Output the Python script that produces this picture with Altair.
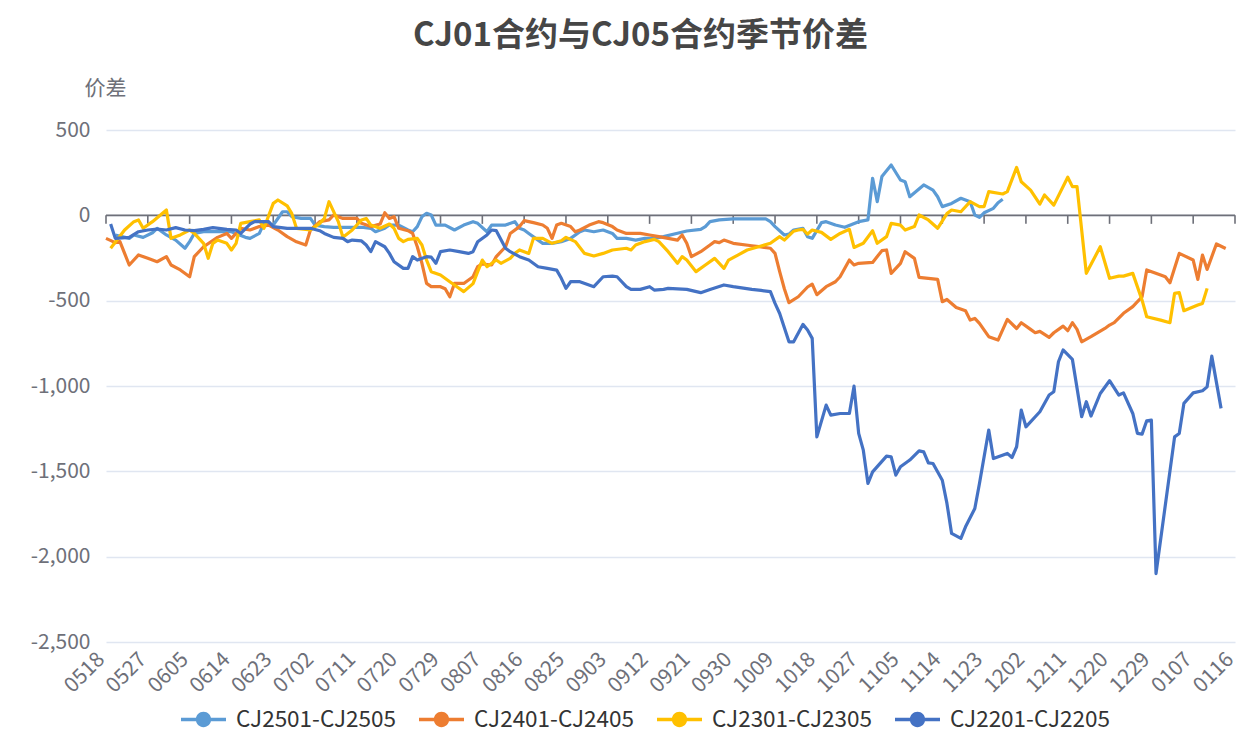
import altair as alt
import pandas as pd

FONT = "Noto Sans CJK SC"

# categories: every calendar day from 05-18 to 01-16 (labels MMDD)
dates = [d.strftime("%m%d") for d in pd.date_range("2021-05-18", "2022-01-16", freq="D")]
label_days = list(range(0, 244, 9))            # positions of the shown tick labels
y_ticks = [-2500, -2000, -1500, -1000, -500, 0, 500]

series = ["CJ2501-CJ2505", "CJ2401-CJ2405", "CJ2301-CJ2305", "CJ2201-CJ2205"]
colors = ["#5B9BD5", "#ED7D31", "#FFC000", "#4472C4"]

# (day index into dates, spread value)
cj2501 = [(2,-115),(5,-135),(6,-115),(8,-129),(10,-102),(11,-76),(13,-115),(15,-145),(17,-193),(18,-154),
          (19,-106),(21,-96),(24,-96),(27,-96),(30,-129),(31,-135),(33,-106),(34,-47),(36,-57),(38,21),
          (39,21),(40,-8),(42,-18),(44,-18),(45,-57),(47,-66),(49,-70),(51,-70),(54,-70),(55,-70),
          (57,-76),(58,-96),(60,-76),(61,-57),(63,-57),(65,-86),(66,-96),(67,-66),(68,-8),(69,12),
          (70,2),(71,-57),(73,-57),(75,-86),(77,-57),(79,-37),(80,-47),(82,-96),(83,-57),(85,-57),
          (86,-57),(88,-37),(89,-76),(90,-86),(91,-106),(93,-145),(94,-164),(96,-164),(98,-154),(100,-135),
          (102,-96),(103,-86),(105,-96),(107,-86),(109,-106),(110,-135),(112,-135),(114,-145),(116,-135),(118,-135),
          (120,-125),(123,-105),(125,-92),(128,-82),(129,-66),(130,-37),(132,-27),(135,-21),(139,-21),(142,-21),
          (143,-37),(144,-66),(146,-115),(147,-110),(148,-86),(150,-76),(151,-125),(152,-135),(154,-43),(155,-37),
          (157,-57),(159,-70),(162,-37),(164,-27),(165,217),(166,80),(167,227),(169,295),(171,207),(172,197),
          (173,109),(176,178),(178,148),(179,109),(180,51),(182,70),(184,100),(186,80),(187,2),(188,-12),
          (189,15),(191,41),(192,74),(193,94)]

cj2401 = [(0,-135),(2,-160),(3,-154),(5,-291),(7,-232),(9,-252),(11,-272),(13,-242),(14,-291),(16,-320),
          (18,-360),(19,-242),(21,-184),(24,-129),(26,-106),(27,-135),(29,-76),(31,-86),(33,-66),(35,-57),
          (37,-86),(39,-125),(41,-155),(43,-174),(44,-86),(46,-37),(48,-27),(49,2),(51,-18),(54,-18),
          (55,-47),(57,-66),(59,-51),(60,15),(61,-18),(62,-8),(63,-76),(65,-90),(66,-106),(67,-184),
          (68,-281),(69,-399),(70,-418),(72,-418),(73,-430),(74,-477),(75,-399),(77,-399),(79,-360),(80,-301),
          (81,-285),(83,-291),(84,-242),(86,-184),(87,-106),(89,-66),(90,-31),(92,-43),(94,-57),(95,-76),
          (96,-135),(97,-57),(98,-47),(100,-66),(101,-96),(102,-86),(104,-57),(106,-37),(107,-43),(109,-66),
          (110,-86),(112,-106),(115,-106),(117,-115),(119,-125),(121,-135),(123,-145),(124,-115),(125,-164),(126,-242),
          (128,-213),(130,-174),(131,-154),(132,-160),(133,-145),(135,-164),(139,-178),(141,-185),(143,-193),(144,-223),
          (145,-330),(146,-430),(147,-512),(149,-477),(151,-420),(152,-403),(153,-465),(155,-418),(157,-389),(158,-360),
          (160,-262),(161,-291),(162,-281),(165,-276),(167,-207),(168,-203),(169,-340),(171,-281),(172,-213),(174,-252),
          (175,-363),(177,-369),(179,-375),(180,-506),(181,-493),(183,-540),(185,-559),(186,-614),(187,-604),(188,-633),
          (190,-711),(192,-731),(194,-610),(196,-663),(197,-629),(199,-668),(200,-688),(201,-680),(203,-715),(204,-688),
          (206,-649),(207,-676),(208,-629),(209,-668),(210,-741),(212,-711),(215,-663),(216,-643),(217,-629),(219,-574),
          (221,-535),(223,-477),(224,-320),(227,-350),(228,-360),(229,-395),(231,-223),(234,-262),(235,-375),(236,-233),
          (237,-317),(239,-168),(241,-194)]

cj2301 = [(1,-193),(4,-86),(6,-37),(7,-27),(8,-76),(10,-37),(13,31),(14,-135),(16,-115),(18,-86),
          (19,-106),(21,-164),(22,-252),(23,-164),(24,-145),(26,-164),(27,-203),(28,-164),(29,-47),(31,-37),
          (33,-27),(34,-76),(36,70),(37,90),(39,55),(40,10),(41,-76),(44,-86),(46,-47),(47,-18),
          (48,80),(50,-37),(51,-129),(53,-86),(55,-27),(56,-18),(57,-57),(59,-76),(61,-51),(62,-76),
          (63,-135),(64,-154),(65,-141),(67,-135),(68,-174),(69,-262),(70,-330),(72,-350),(74,-389),(75,-408),
          (77,-447),(79,-400),(80,-330),(81,-262),(82,-301),(84,-262),(85,-281),(87,-252),(88,-223),(89,-203),
          (91,-223),(92,-135),(94,-135),(96,-164),(98,-149),(99,-129),(101,-154),(103,-223),(105,-238),(107,-223),
          (109,-203),(112,-193),(113,-203),(114,-174),(116,-154),(118,-141),(119,-154),(121,-213),(123,-281),(124,-242),
          (125,-262),(127,-330),(129,-291),(131,-252),(133,-311),(134,-262),(136,-233),(138,-203),(141,-180),(143,-164),
          (145,-125),(146,-145),(148,-93),(149,-86),(150,-82),(151,-110),(152,-86),(154,-100),(156,-141),(158,-106),
          (160,-82),(161,-188),(163,-164),(165,-90),(166,-164),(168,-125),(169,-47),(171,-57),(172,-86),(174,-66),
          (175,2),(177,-27),(179,-76),(181,10),(182,31),(184,21),(186,80),(188,51),(189,51),(190,139),
          (193,125),(194,139),(196,281),(197,197),(199,148),(201,66),(202,119),(204,60),(207,223),(208,168),
          (209,168),(211,-340),(214,-184),(216,-369),(218,-356),(219,-356),(221,-340),(223,-497),(224,-594),(227,-614),
          (229,-629),(230,-457),(231,-453),(232,-559),(235,-526),(236,-516),(237,-428)]

cj2201 = [(1,-51),(2,-135),(5,-129),(7,-96),(9,-86),(11,-80),(13,-86),(15,-72),(17,-86),(19,-90),
          (21,-82),(23,-72),(26,-82),(28,-86),(29,-106),(31,-51),(32,-37),(35,-37),(36,-66),(39,-76),
          (41,-76),(44,-76),(46,-90),(47,-106),(49,-129),(51,-135),(52,-154),(53,-145),(55,-150),(56,-174),
          (57,-213),(58,-154),(60,-184),(61,-223),(62,-272),(64,-311),(65,-311),(66,-242),(67,-262),(69,-242),
          (70,-245),(71,-281),(72,-213),(74,-203),(76,-213),(78,-223),(79,-213),(80,-155),(82,-115),(83,-86),
          (84,-90),(86,-193),(87,-213),(89,-242),(91,-262),(93,-301),(95,-311),(97,-321),(98,-369),(99,-428),
          (100,-389),(102,-389),(105,-418),(107,-360),(109,-356),(110,-360),(112,-418),(113,-434),(115,-434),(117,-418),
          (118,-438),(120,-434),(121,-428),(125,-434),(128,-453),(130,-434),(133,-408),(135,-418),(139,-434),(141,-440),
          (143,-447),(144,-516),(145,-575),(147,-741),(148,-741),(150,-639),(151,-672),(152,-721),(153,-1298),(155,-1112),
          (156,-1171),(158,-1161),(160,-1161),(161,-1001),(162,-1278),(163,-1376),(164,-1571),(165,-1503),(168,-1411),(169,-1415),
          (170,-1522),(171,-1473),(173,-1434),(175,-1380),(176,-1386),(177,-1450),(178,-1454),(180,-1552),(181,-1688),(182,-1864),
          (184,-1893),(185,-1825),(187,-1718),(188,-1571),(190,-1258),(191,-1425),(194,-1395),(195,-1419),(196,-1356),(197,-1141),
          (198,-1239),(201,-1151),(203,-1053),(204,-1034),(205,-858),(206,-789),(208,-844),(210,-1180),(211,-1092),(212,-1176),
          (214,-1044),(216,-969),(218,-1053),(219,-1040),(221,-1161),(222,-1278),(223,-1282),(224,-1204),(225,-1200),(226,-2099),
          (230,-1298),(231,-1278),(232,-1102),(234,-1040),(236,-1028),(237,-1005),(238,-825),(240,-1131)]

all_points = [cj2501, cj2401, cj2301, cj2201]

rows = []
for name, pts in zip(series, all_points):
    for d, v in pts:
        rows.append({"series": name, "day": d, "date": dates[d], "value": v})
df = pd.DataFrame(rows)

label_expr = "[" + ",".join("'%s'" % d for d in dates) + "][datum.value]"
y_label_expr = "datum.value < 0 ? '-' + format(-datum.value, ',d') : format(datum.value, ',d')"

xscale = alt.Scale(domain=[0, len(dates) - 1], nice=False, zero=False)
yscale = alt.Scale(domain=[-2500, 500], nice=False)

x_axis = alt.Axis(values=label_days, labelExpr=label_expr, labelAngle=-45, labelAlign="right",
                  labelBaseline="middle", labelPadding=14, labelOffset=-5, labelFontSize=21,
                  labelColor="#6E7079", labelFont=FONT, labelOverlap=False, labelFlush=False,
                  domain=False, ticks=False, grid=False, title=None)
y_axis = alt.Axis(values=y_ticks, labelExpr=y_label_expr, grid=True, gridColor="#E0E6F1", gridWidth=1.5,
                  domain=False, ticks=False, labelFontSize=21, labelColor="#6E7079", labelFont=FONT,
                  labelPadding=16, title="价差", titleAngle=0, titleX=-1, titleY=-42,
                  titleAlign="center", titleBaseline="middle", titleFontSize=21,
                  titleFontWeight="normal", titleColor="#6E7079", titleFont=FONT)

# zero axis line with ticks at the labelled categories
zero_line = alt.Chart(pd.DataFrame({"value": [0]})).mark_rule(color="#6E7079", strokeWidth=1.6).encode(
    y=alt.Y("value:Q", scale=yscale, axis=y_axis))
tick_df = pd.DataFrame({"day": label_days})
zero_ticks = alt.Chart(tick_df).mark_rule(color="#6E7079", strokeWidth=1.6).encode(
    x=alt.X("day:Q", scale=xscale, axis=x_axis), y=alt.datum(0), y2=alt.datum(-50))

layers = [zero_line, zero_ticks]
for name, col in zip(series, colors):
    layers.append(
        alt.Chart(df[df["series"] == name]).mark_line(color=col, strokeWidth=3.2, strokeJoin="round").encode(
            x=alt.X("day:Q", scale=xscale, axis=x_axis),
            y=alt.Y("value:Q", scale=yscale, axis=y_axis))
    )

PATH = "M-1,-0.08L1,-0.08L1,0.08L-1,0.08Z M-0.34,0A0.34,0.34 0 1,1 0.34,0A0.34,0.34 0 1,1 -0.34,0Z"
legend_df = pd.DataFrame({"series": series, "day": [-100] * 4, "value": [0] * 4})
legend_layer = alt.Chart(legend_df).mark_point(filled=True, clip=True, opacity=1).encode(
    x=alt.X("day:Q", scale=xscale, axis=x_axis),
    y=alt.Y("value:Q", scale=yscale, axis=y_axis),
    color=alt.Color("series:N", scale=alt.Scale(domain=series, range=colors), title=None,
                    legend=alt.Legend(orient="none", legendX=75, legendY=567, direction="horizontal",
                                      symbolType=PATH, symbolSize=2025, symbolStrokeWidth=0,
                                      labelFontSize=22.5, labelColor="#333333", labelFont=FONT,
                                      columnPadding=23, labelOffset=10, padding=0)))
layers.append(legend_layer)

chart = alt.layer(*layers).properties(
    width=1129, height=512,
    autosize=alt.AutoSizeParams(type="none"),
    padding={"left": 98, "top": 122, "right": 4, "bottom": 92},
    title=alt.TitleParams("CJ01合约与CJ05合约季节价差", fontSize=33, fontWeight="bold",
                          color="#464646", font=FONT, anchor="middle", frame="group",
                          dx=-30, offset=24),
).configure(background="white", view=alt.ViewConfig(stroke=None))

chart.save("out.html", embed_options={"renderer": "svg", "actions": False})
